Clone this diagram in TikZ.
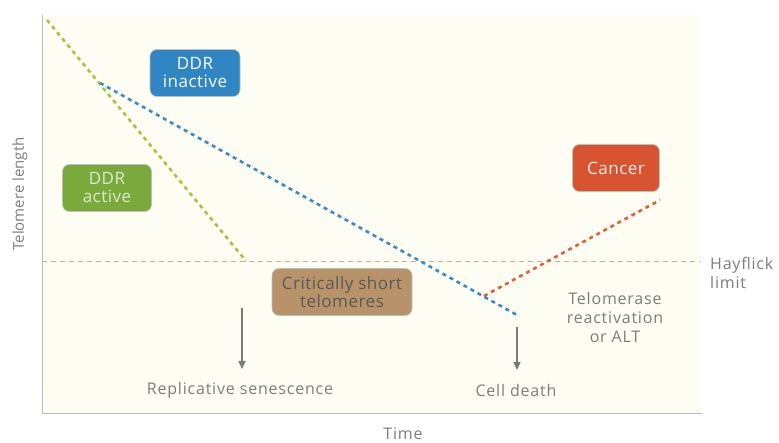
\documentclass[tikz,border=0pt]{standalone}
\usepackage{fontspec}
\setmainfont{Open Sans}
\newfontfamily\labfont[LetterSpace=5]{Open Sans}
\newfontfamily\boxfont[LetterSpace=3]{Open Sans}
\usetikzlibrary{arrows.meta}
\definecolor{txtgray}{HTML}{7D7D7D}
\definecolor{ddrblue}{HTML}{2F86C2}
\definecolor{ddrgreen}{HTML}{7BAA3C}
\definecolor{cancred}{HTML}{D8532F}
\definecolor{shortbrown}{HTML}{B8936A}
\definecolor{plotbg}{HTML}{FDFDF4}
\definecolor{axisgray}{HTML}{BDBDBD}
\definecolor{hayline}{HTML}{B9B68E}
\definecolor{lgreen}{HTML}{A8C43C}
\definecolor{lblue}{HTML}{3A8CC8}
\definecolor{lred}{HTML}{E0603A}
\definecolor{arrgray}{HTML}{7A7A7A}
\tikzset{
  lab/.style={text=txtgray, font=\labfont\fontsize{16}{19}\selectfont, align=center, inner sep=0pt},
  box/.style={rounded corners=7pt, draw=black!25, line width=0.6pt, minimum height=47pt, align=center, inner sep=2pt, font=\boxfont\fontsize{17}{18}\selectfont},
  curve/.style={line width=2.6pt, dash pattern=on 4pt off 4pt},
  downarrow/.style={draw=arrgray, line width=1.5pt, -{Triangle[length=8pt,width=7pt]}}
}
\begin{document}
\begin{tikzpicture}[x=1pt,y=-1pt]
\useasboundingbox (0,0) rectangle (779,443);
\fill[white] (0,0) rectangle (779,443);
\fill[plotbg] (42,15) rectangle (702,413);
% axes
\coordinate (ytop) at (42,15);
\coordinate (orig) at (42,413);
\coordinate (xend) at (702,413);
\draw[axisgray, line width=0.8pt] (ytop) -- (orig) -- (xend);
% Hayflick limit line
\coordinate (h1) at (42,262);
\coordinate (h2) at (700,262);
\draw[hayline, line width=1pt, dash pattern=on 5pt off 4pt] (h1) -- (h2);
% curves
\coordinate (g1) at (47,20);
\coordinate (g2) at (246,261);
\draw[curve, lgreen] (g1) -- (g2);
\coordinate (b1) at (100,83);
\coordinate (b2) at (517,315);
\draw[curve, lblue] (b1) -- (b2);
\coordinate (r1) at (484,296);
\coordinate (r2) at (660,200);
\draw[curve, lred] (r1) -- (r2);
% boxes
\node[box, fill=ddrblue, text=white, minimum width=90pt] (inactive) at (195,73) {DDR\\inactive};
\node[box, fill=ddrgreen, text=white!75!ddrgreen, minimum width=89pt] (active) at (107,188) {DDR\\active};
\node[box, fill=cancred, text=white!92!cancred, minimum width=87pt] (cancer) at (616,168) {Cancer};
\node[box, fill=shortbrown, text=black!65, minimum width=140pt] (short) at (342,292) {Critically short\\telomeres};
% labels
\node[lab] (sen) at (240,390) {Replicative senescence};
\node[lab] (death) at (516,390) {Cell death};
\node[lab] (telo) at (615,318) {Telomerase\\reactivation\\or ALT};
\node[lab, align=left, anchor=west] (hay) at (710,273) {Hayflick\\limit};
\node[lab] (time) at (403,434) {Time};
\node[lab, rotate=90, font=\rmfamily\fontsize{15}{18}\selectfont] (tl) at (20,194) {Telomere length};
% arrows
\coordinate (a1) at (242,308);
\coordinate (a2) at (242,369);
\draw[downarrow] (a1) -- (a2);
\coordinate (c1) at (517,327);
\coordinate (c2) at (517,370);
\draw[downarrow] (c1) -- (c2);
\end{tikzpicture}
\end{document}
